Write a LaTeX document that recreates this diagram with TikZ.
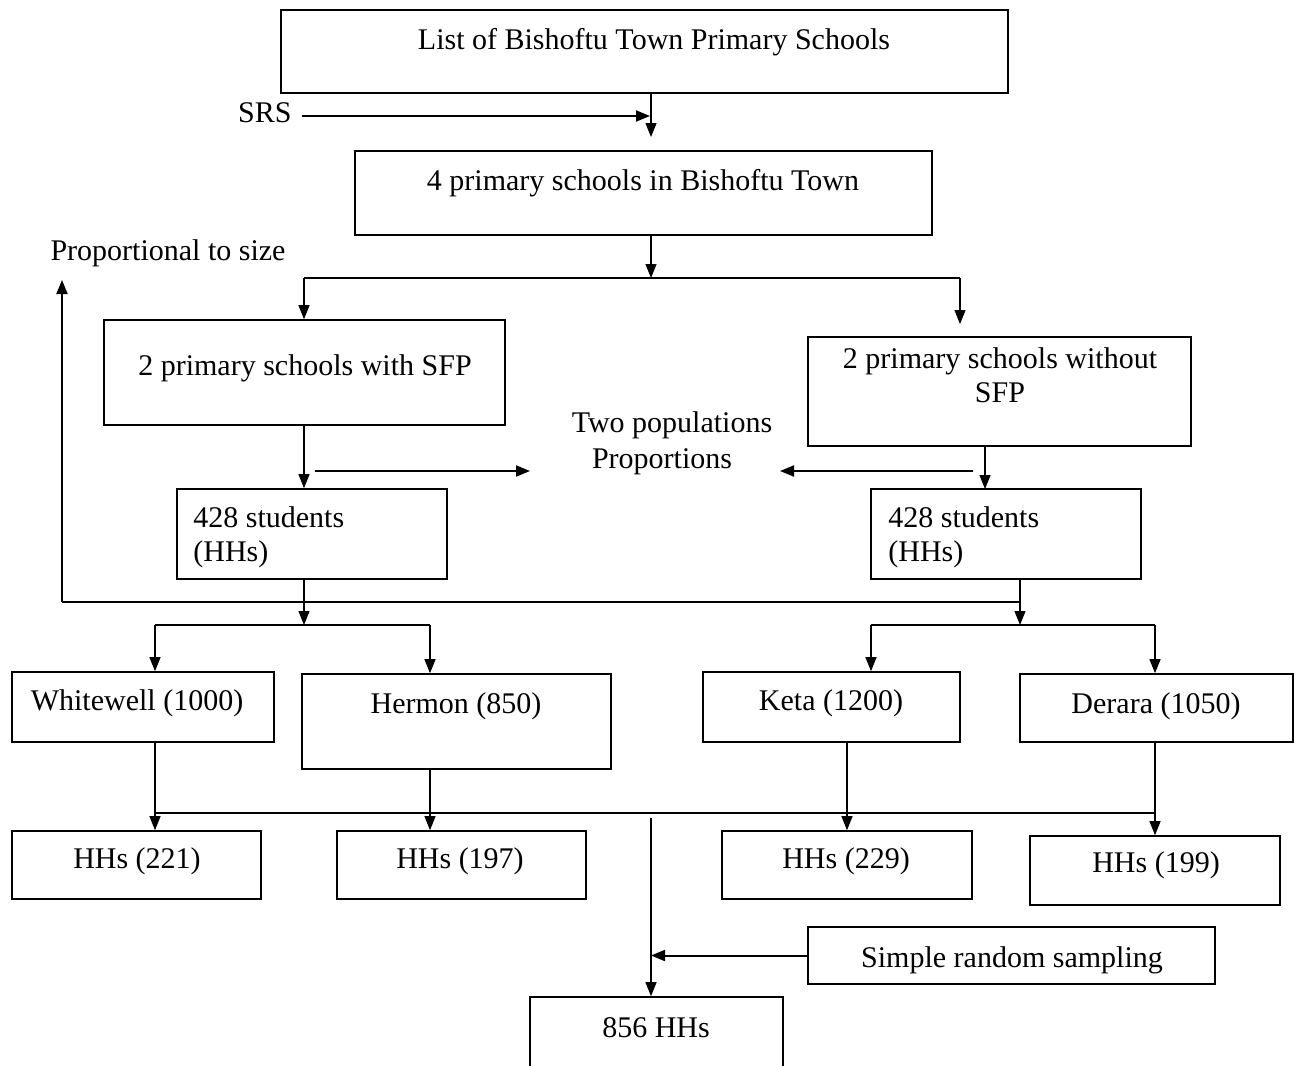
\documentclass[tikz,border=0pt]{standalone}
\usepackage{fontspec}
\setmainfont{Liberation Serif}
\usetikzlibrary{arrows.meta,fit,positioning}
\begin{document}
\begin{tikzpicture}[x=0.5pt,y=-0.5pt,
  bx/.style={draw, line width=0.8pt, inner sep=0pt},
  txt/.style={inner sep=0pt, anchor=base, font=\fontsize{15}{18}\selectfont},
  ltxt/.style={txt, anchor=base west},
  arr/.style={line width=0.6pt, -{Triangle[length=7pt,width=5.5pt]}},
  tarr/.style={line width=1pt, -{Triangle[length=7pt,width=5.5pt]}},
  ln/.style={line width=1pt}]
\useasboundingbox (0,0) rectangle (1294,1065);
% boxes
\node[bx, fit={(281,10) (1008,93)}] (b1) {};
\node[txt] (t1) at (654,50) {List of Bishoftu Town Primary Schools};
\node[bx, fit={(355,151) (932,235)}] (b2) {};
\node[txt] (t2) at (643,190) {4 primary schools in Bishoftu Town};
\node[bx, fit={(104,320) (505,425)}] (b3) {};
\node[txt] (t3) at (305,375) {2 primary schools with SFP};
\node[bx, fit={(808,337) (1191,446)}] (b4) {};
\node[txt] (t4a) at (1000,368) {2 primary schools without};
\node[txt] (t4b) at (1000,402) {SFP};
\node[bx, fit={(177,489) (447,579)}] (b5) {};
\node[ltxt] (t5a) at (193,527) {428 students};
\node[ltxt] (t5b) at (193,561) {(HHs)};
\node[bx, fit={(871,489) (1141,579)}] (b6) {};
\node[ltxt] (t6a) at (888,527) {428 students};
\node[ltxt] (t6b) at (888,561) {(HHs)};
\node[bx, fit={(12,672) (274,742)}] (b7) {};
\node[txt] (t7) at (137,710) {Whitewell (1000)};
\node[bx, fit={(302,674) (611,769)}] (b8) {};
\node[txt] (t8) at (456,713) {Hermon (850)};
\node[bx, fit={(703,672) (960,742)}] (b9) {};
\node[txt] (t9) at (831,710) {Keta (1200)};
\node[bx, fit={(1020,674) (1293,742)}] (b10) {};
\node[txt] (t10) at (1156,713) {Derara (1050)};
\node[bx, fit={(12,831) (261,899)}] (b11) {};
\node[txt] (t11) at (137,868) {HHs (221)};
\node[bx, fit={(337,831) (586,899)}] (b12) {};
\node[txt] (t12) at (460,868) {HHs (197)};
\node[bx, fit={(722,831) (972,899)}] (b13) {};
\node[txt] (t13) at (846,868) {HHs (229)};
\node[bx, fit={(1030,836) (1280,905)}] (b14) {};
\node[txt] (t14) at (1156,872) {HHs (199)};
\node[bx, fit={(808,927) (1215,984)}] (b15) {};
\node[txt] (t15) at (1012,967) {Simple random sampling};
\node[bx, fit={(530,997) (783,1080)}] (b16) {};
\node[txt] (t16) at (656,1037) {856 HHs};
% free labels
\node[txt, anchor=base east] (srs) at (292,122) {SRS};
\node[txt] (pts) at (168,260) {Proportional to size};
\node[txt] (tp1) at (672,432) {Two populations};
\node[txt] (tp2) at (662,468) {Proportions};
% coordinates
\coordinate (c1) at (651,137);
\coordinate (srsA) at (302,116);
\coordinate (srsB) at (650,116);
\coordinate (j1) at (651,278);
\coordinate (jl) at (304,278);
\coordinate (jr) at (960,278);
\coordinate (b3in) at (304,425);
\coordinate (pl1) at (315,471);
\coordinate (pl2) at (530,471);
\coordinate (pr1) at (973,471);
\coordinate (pr2) at (780,471);
\coordinate (b4out) at (985,446);
\coordinate (b6top) at (985,489);
\coordinate (k1) at (62,602);
\coordinate (k2) at (1020,602);
\coordinate (k3) at (62,280);
\coordinate (m1) at (304,625);
\coordinate (m2) at (1020,625);
\coordinate (ll) at (155,625);
\coordinate (lr) at (430,625);
\coordinate (rl) at (871,625);
\coordinate (rr) at (1155,625);
\coordinate (h1) at (155,813);
\coordinate (h2) at (1155,813);
\coordinate (v1) at (651,818);
% connectors
\draw[arr] (b1.south -| c1) -- (c1);
\draw[tarr] (srsA) -- (srsB);
\draw[arr] (b2.south -| j1) -- (j1);
\draw[ln] (jl) -- (jr);
\draw[arr] (jl) -- (b3.north -| jl);
\draw[arr] (jr) -- (960,324);
\draw[arr] (b3in) -- (b5.north -| b3in);
\draw[tarr] (pl1) -- (pl2);
\draw[tarr] (pr1) -- (pr2);
\draw[arr] (b4out) -- (b6top);
\draw[arr] (b5.south -| m1) -- (m1);
\draw[arr] (b6.south -| m2) -- (m2);
\draw[ln] (k1) -- (k2);
\draw[ln, -{Triangle[length=7pt,width=5.5pt]}] (k1) -- (k3);
\draw[ln] (ll) -- (lr);
\draw[arr] (ll) -- (b7.north -| ll);
\draw[arr] (lr) -- (b8.north -| lr);
\draw[ln] (rl) -- (rr);
\draw[arr] (rl) -- (b9.north -| rl);
\draw[arr] (rr) -- (b10.north -| rr);
\draw[ln] (h1) -- (h2);
\draw[arr] (b7.south -| h1) -- (b11.north -| h1);
\draw[arr] (b8.south -| lr) -- (b12.north -| lr);
\draw[arr] (b9.south -| 847,0) -- (b13.north -| 847,0);
\draw[arr] (b10.south -| rr) -- (b14.north -| rr);
\draw[arr] (v1) -- (b16.north -| v1);
\draw[tarr] (b15.west) -- (b15.west -| v1);
\end{tikzpicture}
\end{document}
